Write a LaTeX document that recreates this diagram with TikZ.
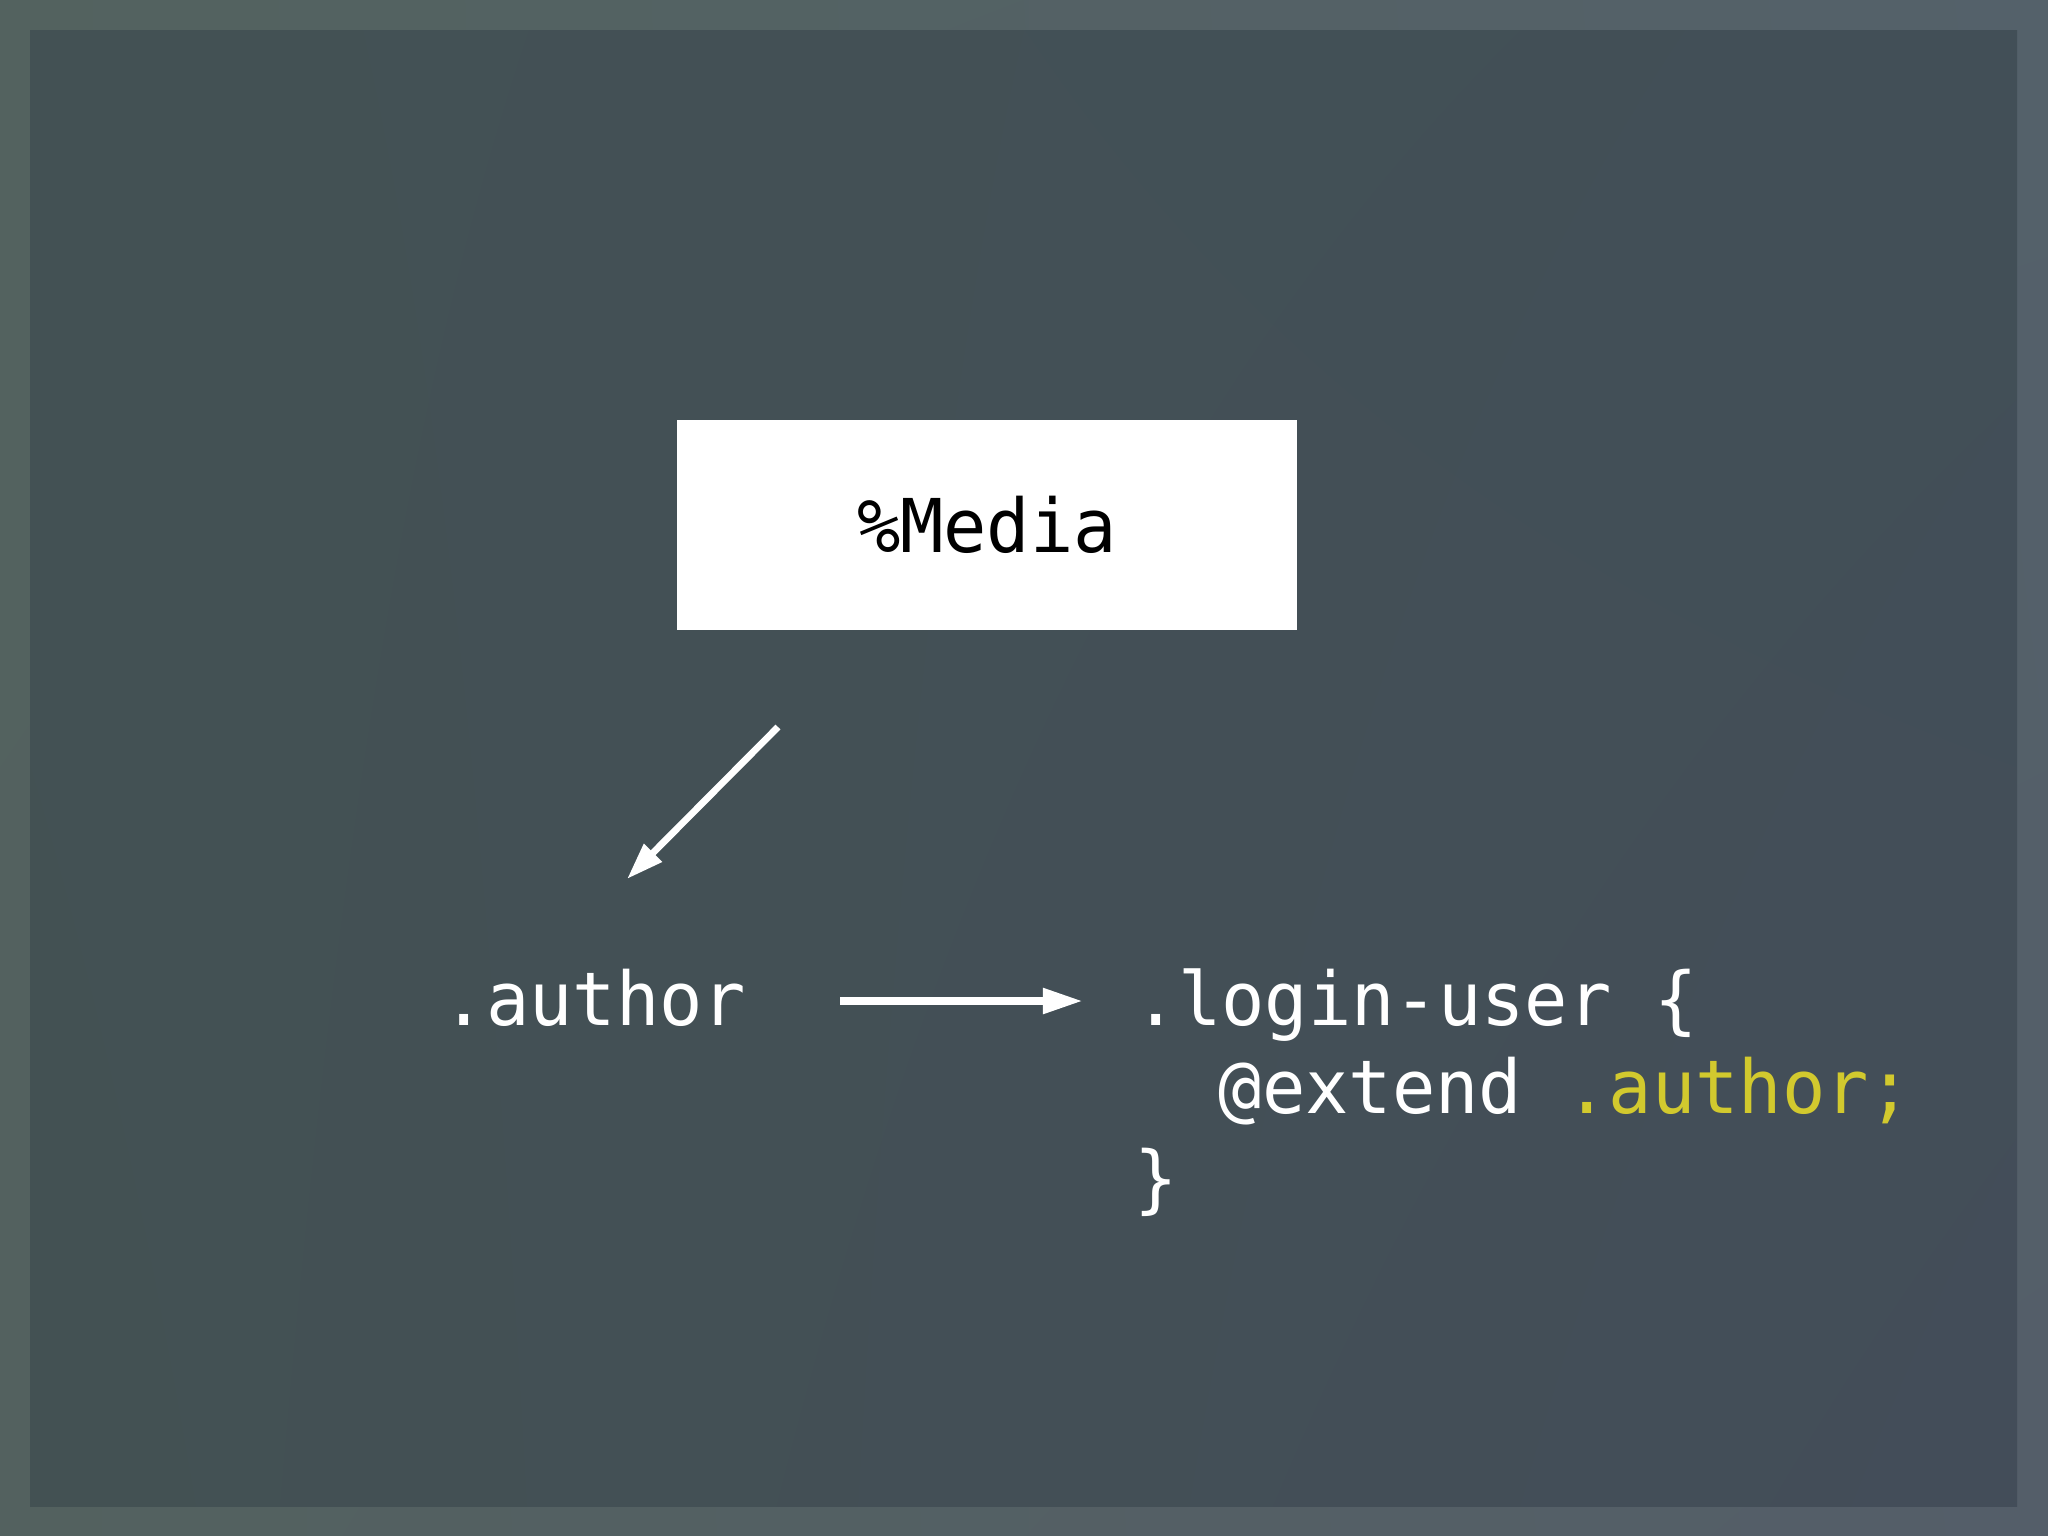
\documentclass[tikz,border=0pt]{standalone}
\usepackage{fontspec}
\usetikzlibrary{arrows.meta,shadings}
\newfontfamily\codefont[FakeStretch=0.97]{DejaVu Sans Mono}
\definecolor{codeyellow}{HTML}{D2C92E}
\definecolor{outerUL}{HTML}{53625F}
\definecolor{outerUR}{HTML}{54616A}
\definecolor{outerLL}{HTML}{53615F}
\definecolor{outerLR}{HTML}{545E69}
\definecolor{innerUL}{HTML}{435154}
\definecolor{innerUR}{HTML}{424F57}
\definecolor{innerLL}{HTML}{435153}
\definecolor{innerLR}{HTML}{434D59}
\tikzset{
  codetext/.style={text=white, font=\codefont\fontsize{21.1pt}{25pt}\selectfont, inner sep=0pt, anchor=base west},
  mediabox/.style={fill=white, draw=none, text=black, minimum width=6.20cm, minimum height=2.10cm, inner sep=0pt, font=\codefont\fontsize{21.1pt}{25pt}\selectfont},
  diagarrow/.style={draw=white, line width=0.68mm, -{Triangle[length=3.7mm,width=2.4mm]}},
  horarrow/.style={draw=white, line width=0.8mm, -{Triangle[length=4mm,width=2.4mm]}}
}
\begin{document}
\begin{tikzpicture}[x=0.01cm,y=-0.01cm]
\useasboundingbox (0,0) rectangle (2048,1536);
\shade[upper left=outerUL, upper right=outerUR, lower left=outerLL, lower right=outerLR] (0,0) rectangle (2048,1536);
\shade[upper left=innerUL, upper right=innerUR, lower left=innerLL, lower right=innerLR] (30,30) rectangle (2017,1506);

\node[mediabox] (media) at (987,525) {\%Media};

\node[codetext] (author) at (442,1025) {.author};
\node[codetext] (line1) at (1134,1025) {.login-user \{};
\node[codetext] (line2) at (1218,1113) {@extend \textcolor{codeyellow}{.author;}};
\node[codetext] (line3) at (1134,1204) {\}};

\coordinate (dstart) at (778,727);
\coordinate (dend) at (627,879);
\coordinate (hstart) at (840,1001);
\coordinate (hend) at (1083,1001);

\draw[diagarrow] (dstart) -- (dend);
\draw[horarrow] (hstart) -- (hend);
\end{tikzpicture}
\end{document}
